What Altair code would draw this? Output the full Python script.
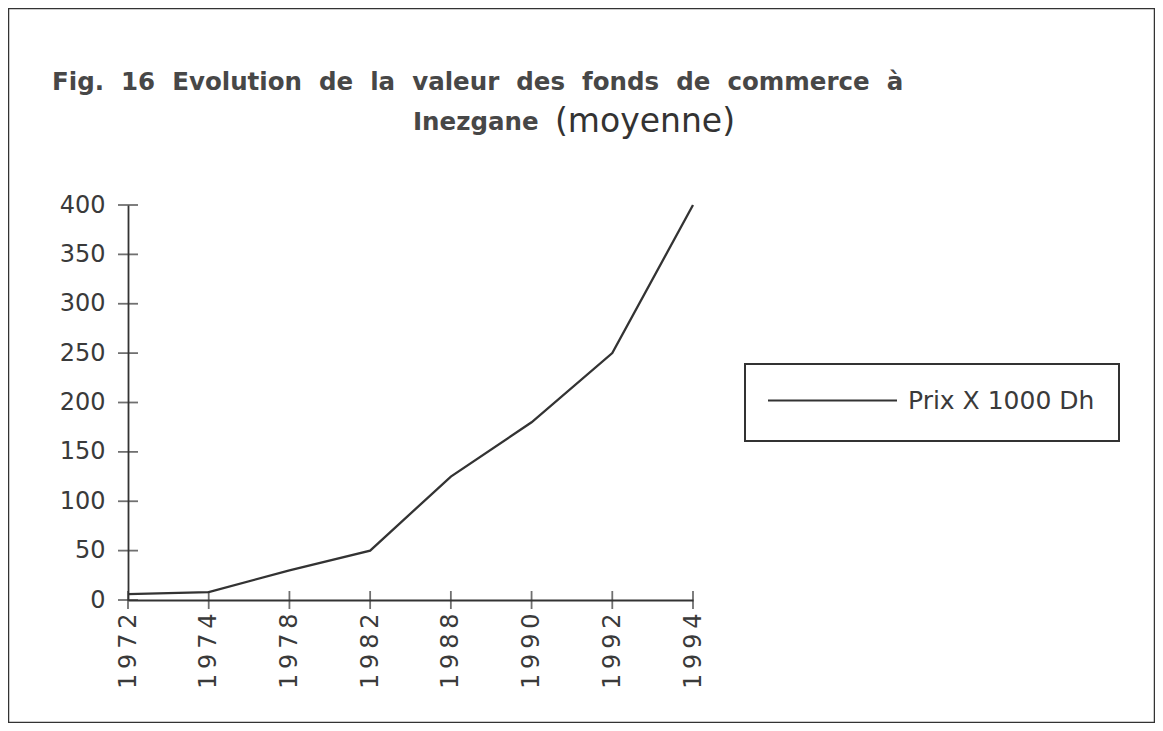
import altair as alt
import pandas as pd

# ---- data ----
years = ["1972", "1974", "1978", "1982", "1988", "1990", "1992", "1994"]
prices = [6, 8, 30, 50, 125, 180, 250, 400]
series_name = "Prix X 1000 Dh"
y_ticks = [0, 50, 100, 150, 200, 250, 300, 350, 400]
title_line1 = "Fig.\u00a0 16\u00a0 Evolution\u00a0 de\u00a0 la\u00a0 valeur\u00a0 des\u00a0 fonds\u00a0 de\u00a0 commerce\u00a0 à"
title_line2a = "Inezgane"
title_line2b = "(moyenne)"

W, H = 1147, 715
INK = "#333333"

df = pd.DataFrame({"Year": years, "Prix": prices, "series": [series_name] * len(years)})
ytick_df = pd.DataFrame({"Year": [years[0]] * len(y_ticks), "Prix": y_ticks})
xtick_df = pd.DataFrame({"Year": years, "Prix": [0] * len(years)})

x_scale = alt.Scale(type="point", range=[120, 685], padding=0)
y_scale = alt.Scale(domain=[0, 400], range=[592, 197], nice=False, zero=True)

x_enc = alt.X(
    "Year:O",
    scale=x_scale,
    sort=years,
    axis=alt.Axis(
        title=None,
        orient="bottom",
        offset=-(H - 592),
        labelAngle=270,
        labelPadding=13,
        ticks=False,
        domainColor=INK,
        domainWidth=1.8,
        labelFont="DejaVu Sans",
        labelFontSize=24,
        labelColor="#3a3a3a",
        labelExpr="join(split(datum.label, ''), '\u2009')",
    ),
)
y_enc = alt.Y(
    "Prix:Q",
    scale=y_scale,
    axis=alt.Axis(
        title=None,
        orient="left",
        offset=-120,
        values=y_ticks,
        ticks=False,
        grid=False,
        labelPadding=23,
        domainColor=INK,
        domainWidth=1.8,
        labelFont="DejaVu Sans",
        labelFontSize=24,
        labelColor="#3a3a3a",
    ),
)

line = alt.Chart(df).mark_line(strokeWidth=2.3).encode(
    x=x_enc,
    y=y_enc,
    color=alt.Color(
        "series:N",
        scale=alt.Scale(range=[INK]),
        legend=alt.Legend(
            title=None,
            orient="none",
            legendX=759,
            legendY=327,
            padding=0,
            symbolType="stroke",
            symbolSize=16641,
            symbolStrokeWidth=1.8,
            labelFont="DejaVu Sans",
            labelFontSize=25,
            labelColor="#3a3a3a",
            labelOffset=10,
            labelLimit=400,
        ),
    ),
)

# legend frame
legend_box = alt.Chart(alt.Data(values=[{"k": 1}])).mark_rect(
    fill="white", stroke=INK, strokeWidth=2
).encode(x=alt.value(737), x2=alt.value(1111), y=alt.value(356), y2=alt.value(433))

yticks = alt.Chart(ytick_df).mark_tick(orient="horizontal", size=20, thickness=1.8, color=INK).encode(
    x=alt.X("Year:O", sort=years),
    y="Prix:Q",
)
xticks = alt.Chart(xtick_df).mark_tick(orient="vertical", size=18, thickness=1.8, color=INK).encode(
    x=alt.X("Year:O", sort=years),
    y="Prix:Q",
)

t1 = alt.Chart(alt.Data(values=[{"t": title_line1}])).mark_text(
    align="left", baseline="alphabetic", font="DejaVu Sans", fontSize=24.5, fontWeight="bold", color="#474747"
).encode(x=alt.value(44), y=alt.value(82), text="t:N")
t2 = alt.Chart(alt.Data(values=[{"t": title_line2a}])).mark_text(
    align="left", baseline="alphabetic", font="DejaVu Sans", fontSize=24.5, fontWeight="bold", color="#474747"
).encode(x=alt.value(405), y=alt.value(122), text="t:N")
t3 = alt.Chart(alt.Data(values=[{"t": title_line2b}])).mark_text(
    align="left", baseline="alphabetic", font="DejaVu Sans", fontSize=33, fontWeight="normal", color="#333"
).encode(x=alt.value(547), y=alt.value(124), text="t:N")

chart = alt.layer(legend_box, line, yticks, xticks, t1, t2, t3).properties(
    width=W,
    height=H,
    autosize=alt.AutoSizeParams(type="none"),
    padding=0,
    background="white",
).configure_view(stroke=INK, strokeWidth=2.5)

chart.save("out.html", embed_options={"renderer": "svg", "actions": False})
